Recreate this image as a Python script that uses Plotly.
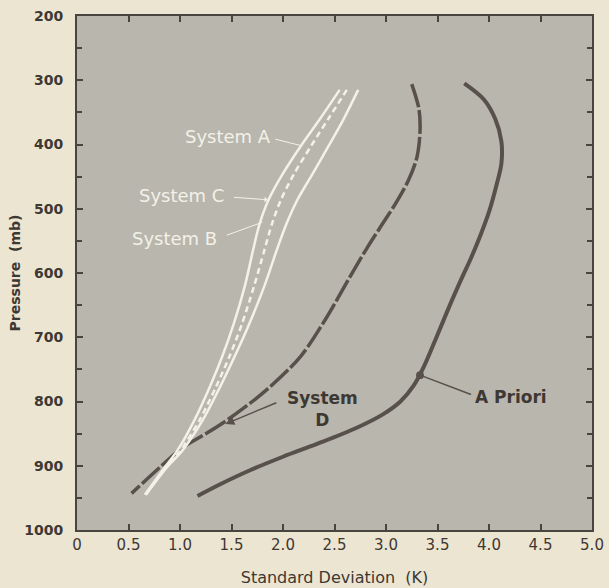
import plotly.graph_objects as go

# ---- data ----
apriori_x = [3.76, 3.95, 4.06, 4.12, 4.12, 4.07, 4.00, 3.92, 3.83, 3.73, 3.62, 3.49, 3.37, 3.27, 3.14, 2.97, 2.70, 2.33, 2.00, 1.68, 1.40, 1.17]
apriori_p = [305, 330, 360, 395, 430, 465, 505, 540, 575, 610, 650, 700, 745, 775, 800, 820, 842, 866, 886, 907, 928, 947]

sysD_x = [3.25, 3.32, 3.33, 3.30, 3.22, 3.10, 2.96, 2.82, 2.65, 2.42, 2.17, 1.84, 1.62, 1.42, 1.20, 1.03, 0.80, 0.53]
sysD_p = [306, 345, 380, 420, 455, 490, 525, 560, 606, 670, 730, 782, 810, 833, 855, 871, 903, 943]

white_p = [315, 360, 403, 445, 486, 525, 564, 620, 680, 730, 777, 829, 875, 905, 945]
sysL_x = [2.55, 2.36, 2.17, 2.00, 1.86, 1.77, 1.71, 1.63, 1.52, 1.41, 1.29, 1.14, 0.98, 0.84, 0.66]
sysM_x = [2.62, 2.44, 2.27, 2.11, 1.98, 1.89, 1.82, 1.72, 1.60, 1.48, 1.35, 1.19, 1.01, 0.85, 0.66]
sysR_x = [2.73, 2.59, 2.44, 2.29, 2.14, 2.03, 1.94, 1.82, 1.67, 1.53, 1.39, 1.22, 1.03, 0.86, 0.67]

x_ticks = [0, 0.5, 1.0, 1.5, 2.0, 2.5, 3.0, 3.5, 4.0, 4.5, 5.0]
x_ticktext = ["0", "0.5", "1.0", "1.5", "2.0", "2.5", "3.0", "3.5", "4.0", "4.5", "5.0"]
y_ticks = [200, 300, 400, 500, 600, 700, 800, 900, 1000]

PAPER = "#ece5d2"
PLOT = "#b8b6ad"
DARK = "#58504a"
INK = "#3e3833"
WHITE = "#f3f1e8"

fig = go.Figure()
fig.add_trace(go.Scatter(x=apriori_x, y=apriori_p, mode="lines",
                         line=dict(color=DARK, width=4, shape="spline", smoothing=0.9), showlegend=False))
fig.add_trace(go.Scatter(x=sysD_x, y=sysD_p, mode="lines",
                         line=dict(color=DARK, width=3.5, shape="spline", smoothing=0.9, dash="24px,3px"), showlegend=False))
fig.add_trace(go.Scatter(x=sysL_x, y=white_p, mode="lines",
                         line=dict(color=WHITE, width=2.5, shape="spline", smoothing=0.8), showlegend=False))
fig.add_trace(go.Scatter(x=sysM_x, y=white_p, mode="lines",
                         line=dict(color=WHITE, width=2.5, shape="spline", smoothing=0.8, dash="6px,4px"), showlegend=False))
fig.add_trace(go.Scatter(x=sysR_x, y=white_p, mode="lines",
                         line=dict(color=WHITE, width=2.5, shape="spline", smoothing=0.8), showlegend=False))

wfont = dict(family="DejaVu Sans", size=18, color=WHITE)
dfont = dict(family="DejaVu Sans", size=17, color=INK, weight="bold")

ann = []
# white labels
ann.append(dict(x=1.47, y=388, text="System A", showarrow=False, font=wfont))
ann.append(dict(x=1.01, y=480, text="System C", showarrow=False, font=wfont))
ann.append(dict(x=0.95, y=546, text="System B", showarrow=False, font=wfont))
# white pointer arrows
for (x0, y0, x1, y1, head) in [(1.91, 391, 2.18, 402, 0), (1.51, 482, 1.85, 486, 1), (1.44, 542, 1.80, 521, 0)]:
    ann.append(dict(x=x1, y=y1, ax=x0, ay=y0, axref="x", ayref="y", text="", showarrow=True,
                    arrowcolor=WHITE, arrowwidth=1, arrowhead=head, arrowsize=1))
# dark labels
ann.append(dict(x=2.38, y=812, text="System<br>D", showarrow=False, font=dfont))
ann.append(dict(x=1.44, y=835, ax=1.95, ay=801, axref="x", ayref="y", text="", showarrow=True,
                arrowcolor=DARK, arrowwidth=1.5, arrowhead=2, arrowsize=1.2))
ann.append(dict(x=4.21, y=793, text="A Priori", showarrow=False, font=dfont))
ann.append(dict(x=3.33, y=759, ax=3.84, ay=790, axref="x", ayref="y", text="", showarrow=True,
                arrowcolor=DARK, arrowwidth=1.5, arrowhead=6, arrowsize=1.3))

fig.update_layout(
    width=609, height=588,
    margin=dict(l=77, r=17, t=16, b=58),
    paper_bgcolor=PAPER, plot_bgcolor=PLOT,
    annotations=ann,
    showlegend=False,
)
fig.update_xaxes(
    range=[0, 5.0], tickvals=x_ticks, ticktext=x_ticktext,
    showgrid=False, zeroline=False, automargin=False,
    showline=True, linecolor="#4a4440", linewidth=2, mirror="ticks",
    ticks="inside", ticklen=6, tickcolor="#4a4440", tickwidth=1.5,
    tickfont=dict(family="DejaVu Sans", size=15, color=INK),
    title=dict(text="Standard Deviation  (K)", standoff=19,
               font=dict(family="DejaVu Sans", size=16, color=INK)),
)
fig.update_yaxes(
    range=[1000, 200], tickvals=y_ticks,
    showgrid=False, zeroline=False, automargin=False,
    showline=True, linecolor="#4a4440", linewidth=2, mirror="ticks",
    ticks="inside", ticklen=6, tickcolor="#4a4440", tickwidth=1.5,
    minor=dict(dtick=50, ticks="inside", ticklen=5, tickcolor="#4a4440", tickwidth=1.5, showgrid=False),
    ticklabelstandoff=9,
    tickfont=dict(family="DejaVu Sans", size=14, color=INK, weight="bold"),
    title=dict(text="Pressure  (mb)", standoff=0,
               font=dict(family="DejaVu Sans", size=14, color=INK, weight="bold")),
)

fig.write_html("out.html")
